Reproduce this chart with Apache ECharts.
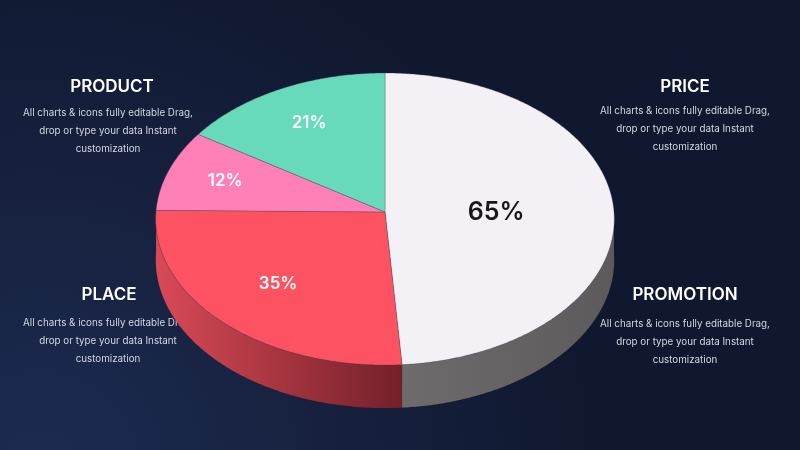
<!DOCTYPE html>
<html>
<head>
<meta charset="utf-8">
<script src="https://cdn.jsdelivr.net/npm/echarts@6/dist/echarts.min.js"></script>
<style>
html, body { margin: 0; padding: 0; background: #111a33; }
#main { width: 800px; height: 450px; }
</style>
</head>
<body>
<div id="main"></div>
<script>
// slice values (labels show the raw value with a % sign)
const sliceValues = [65, 35, 12, 21];
const titles = ['PRODUCT', 'PRICE', 'PLACE', 'PROMOTION'];
const blurb = ['All charts & icons fully editable Drag,', 'drop or type your data Instant', 'customization'];

// styles
const topColors = ['#f3f1f6', '#fd5261', '#fe80b6', '#67dabb'];
const sideColors = [['#6e6b6d', '#5d5a5c'], ['#d84a56', '#74202a'], ['#c9628f', '#7c3050'], ['#4fa88e', '#2c6a58']];
const labelColors = ['#18181c', '#ffffff', '#ffffff', '#ffffff'];
const labelSizes = [25, 17, 17, 17];

// geometry of the tilted disc
const CX = 385, CY = 212, R = 229, B = 145.7, P = 0.048, H = 41;
const total = sliceValues.reduce((a, b) => a + b, 0);

let acc = 0;
const sliceData = sliceValues.map(v => { const d = [acc, v]; acc += v; return d; });

function angleOf(val) {
    return -Math.PI / 2 + 2 * Math.PI * val / total;
}
// point on the disc at radius fraction r, angle t, dropped by d pixels
function proj(r, t, d) {
    const u = r * Math.cos(t), v = r * Math.sin(t);
    const f = 1 / (1 - P * v);
    return [CX + R * u * f, CY + (B * v + d) * f];
}
function arc(a0, a1, d) {
    const pts = [];
    const n = Math.max(2, Math.ceil((a1 - a0) / 0.01));
    for (let i = 0; i <= n; i++) pts.push(proj(1, a0 + (a1 - a0) * i / n, d));
    return pts;
}

function renderWall(params, api) {
    const a0 = angleOf(api.value(0)), a1 = angleOf(api.value(0) + api.value(1));
    const lo = Math.max(a0, 0), hi = Math.min(a1, Math.PI);
    if (hi <= lo) return null;
    const pts = arc(lo, hi, 0).concat(arc(lo, hi, H).reverse());
    const xs = pts.map(p => p[0]);
    const x0 = Math.min(...xs), x1 = Math.max(...xs);
    const sc = sideColors[params.dataIndex];
    return {
        type: 'polygon',
        shape: { points: pts },
        style: {
            fill: new echarts.graphic.LinearGradient(x0, 0, x1, 0, [
                { offset: 0, color: sc[0] },
                { offset: 1, color: sc[1] }
            ], true),
            stroke: 'rgba(0,0,0,0.12)',
            lineWidth: 0.5
        }
    };
}

function renderTop(params, api) {
    const i = params.dataIndex;
    const a0 = angleOf(api.value(0)), a1 = angleOf(api.value(0) + api.value(1));
    const pts = [[CX, CY]].concat(arc(a0, a1, 0));
    const th = a1 - a0, mid = (a0 + a1) / 2;
    // a bit further out than the sector centroid
    const c = 4 * Math.sin(th / 2) / (3 * th);
    const lp = proj(Math.min(0.8, 1.12 * c), mid, 0);
    return {
        type: 'group',
        children: [{
            type: 'polygon',
            shape: { points: pts },
            style: { fill: topColors[i], stroke: 'rgba(70,70,85,0.55)', lineWidth: 0.6 }
        }, {
            type: 'text',
            style: {
                text: api.value(1) + '%',
                x: lp[0], y: lp[1] + (i === 0 ? 3 : 0),
                align: 'center', verticalAlign: 'middle',
                fill: labelColors[i],
                font: '600 ' + labelSizes[i] + 'px Inter',
                shadowColor: 'rgba(0,0,0,0.2)', shadowBlur: i === 0 ? 0 : 2
            }
        }]
    };
}

const textSpots = [
    { tx: 112, ty: 87, dx: 108, dy: 112.7 },
    { tx: 685, ty: 87, dx: 685, dy: 110.7 },
    { tx: 109, ty: 295, dx: 108, dy: 322.7 },
    { tx: 685, ty: 295, dx: 685, dy: 324 }
];
const graphics = [];
titles.forEach((t, k) => {
    const s = textSpots[k];
    graphics.push({
        type: 'text', z: 0, silent: true,
        style: { text: t, x: s.tx, y: s.ty, align: 'center', verticalAlign: 'middle',
                 fill: '#ffffff', font: '600 17px Inter' }
    });
    blurb.forEach((line, j) => {
        graphics.push({
            type: 'text', z: 0, silent: true,
            style: { text: line, x: s.dx, y: s.dy + j * 18, align: 'center', verticalAlign: 'middle',
                     fill: '#d3d7e2', font: '9.8px Inter' }
        });
    });
});

var chartDom = document.getElementById('main');
var myChart = echarts.init(chartDom);
let option = {
    animation: false,
    backgroundColor: {
        type: 'radial', x: 0.05, y: 1.05, r: 1.25,
        colorStops: [
            { offset: 0, color: '#1d2b51' },
            { offset: 0.5, color: '#17213f' },
            { offset: 1, color: '#10182f' }
        ]
    },
    graphic: graphics,
    series: [
        { type: 'custom', coordinateSystem: 'none', silent: true, z: 2, renderItem: renderWall, data: sliceData },
        { type: 'custom', coordinateSystem: 'none', silent: true, z: 3, renderItem: renderTop, data: sliceData }
    ]
};
option && myChart.setOption(option);
</script>
</body>
</html>
